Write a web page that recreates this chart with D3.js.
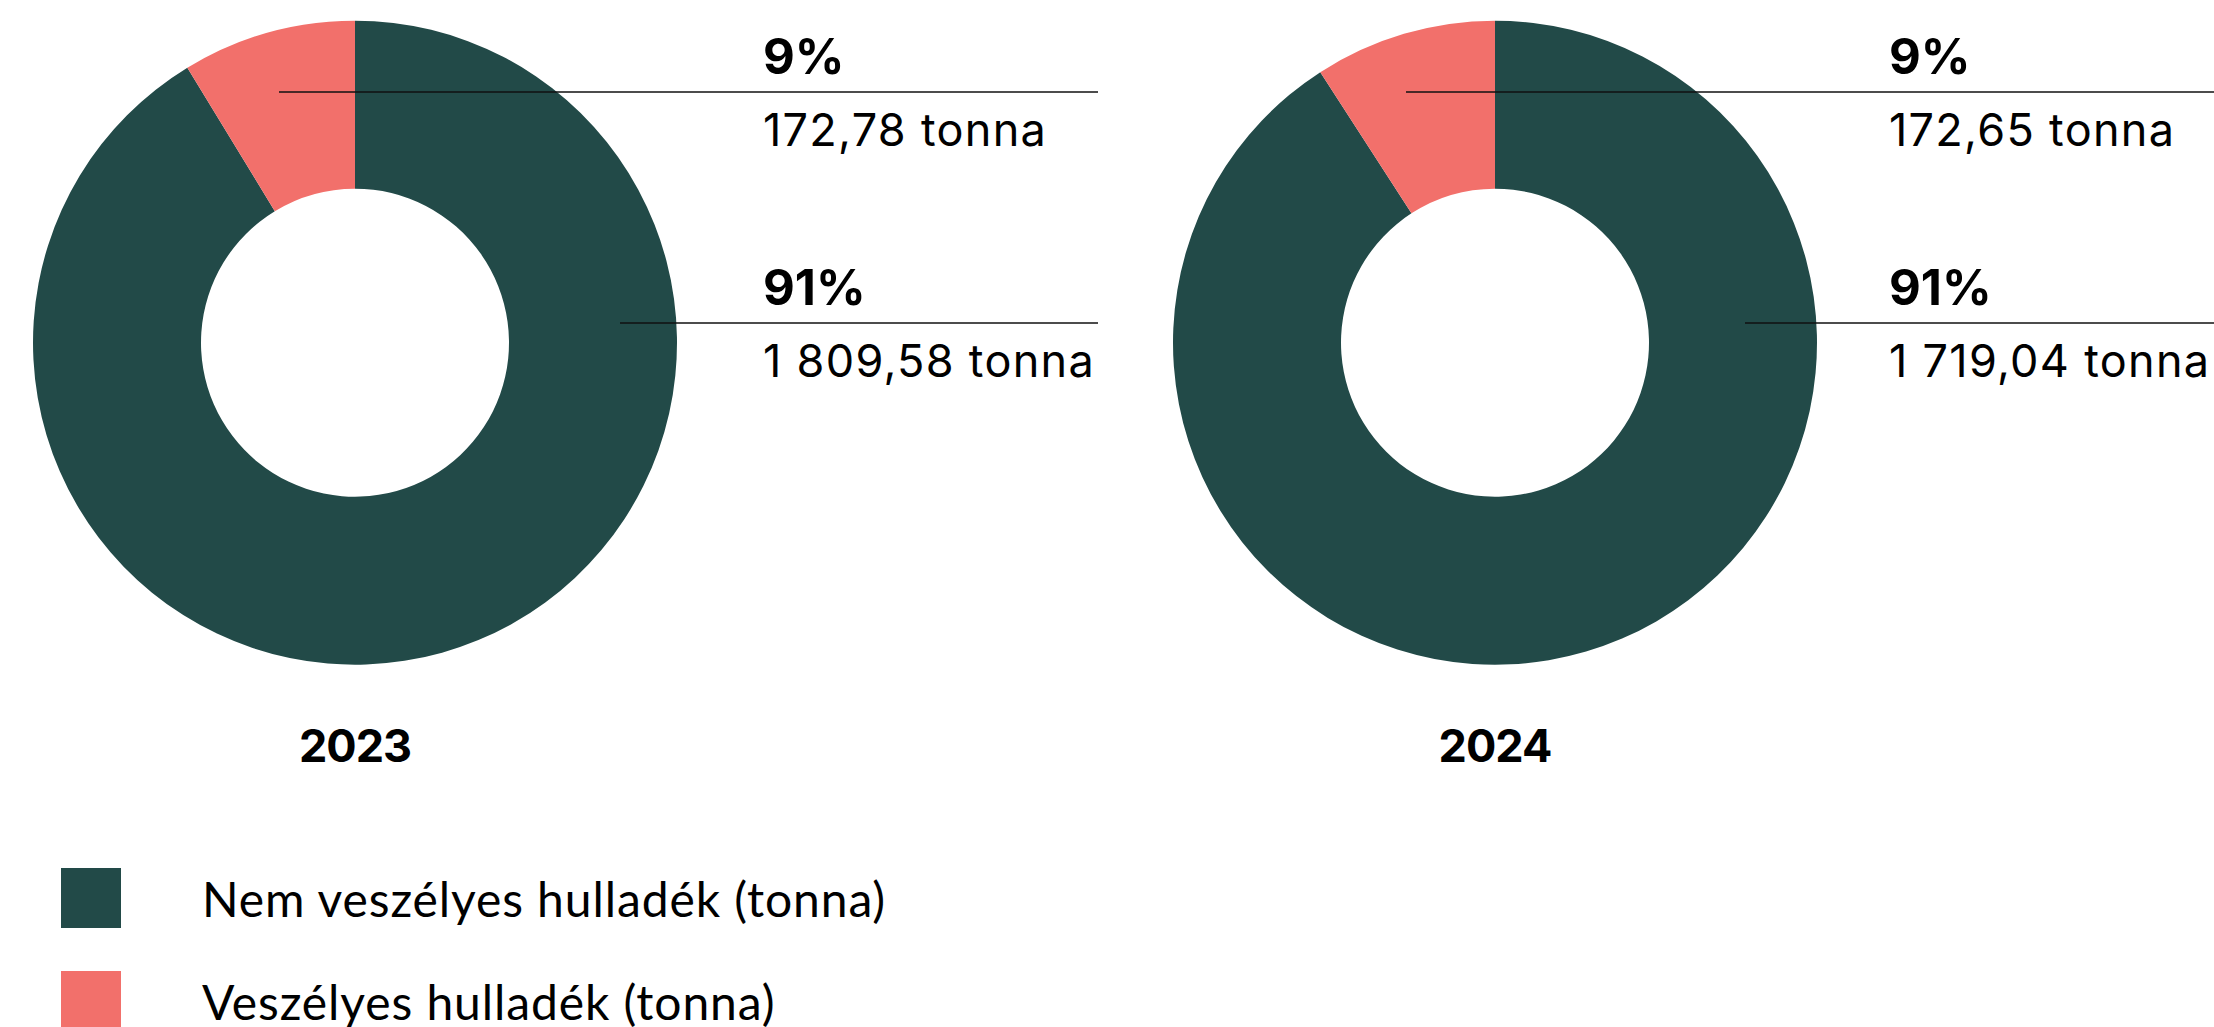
<!DOCTYPE html>
<html>
<head>
<meta charset="utf-8">
<script src="https://cdn.jsdelivr.net/npm/d3@7"></script>
<style>
  html, body { margin: 0; padding: 0; background: #fff; }
  svg { display: block; }
</style>
</head>
<body>
<svg id="chart" width="2214" height="1027"></svg>
<script>
// Waste generated per year, in tonnes
const years = ["2023", "2024"];
const categories = ["Nem veszélyes hulladék (tonna)", "Veszélyes hulladék (tonna)"];
const nonHazardous = [1809.58, 1719.04];
const hazardous = [172.78, 172.65];

const colors = ["#224a48", "#f2706b"];

// Per-donut placement
const layout = [
  { cx: 355,  hazLineX: 279,  nonLineX: 620,  lineEnd: 1098, textX: 763 },
  { cx: 1495, hazLineX: 1406, nonLineX: 1745, lineEnd: 2214, textX: 1889 }
];
const cy = 342.7, outerR = 322, innerR = 154;
const hazLineY = 92, nonLineY = 323;

const huLocale = d3.formatLocale({ decimal: ",", thousands: " ", grouping: [3], currency: ["", ""] });
const fmtTonnes = huLocale.format(",.2f");

const svg = d3.select("#chart");
const pie = d3.pie().sort(null).value(d => d.value);
const arc = d3.arc().innerRadius(innerR).outerRadius(outerR);
const colorScale = d3.scaleOrdinal().domain(categories).range(colors);

years.forEach((year, i) => {
  const L = layout[i];
  const data = [
    { key: categories[0], value: nonHazardous[i] },
    { key: categories[1], value: hazardous[i] }
  ];
  const total = d3.sum(data, d => d.value);
  const g = svg.append("g").attr("class", "donut");

  g.append("g")
    .attr("transform", `translate(${L.cx},${cy})`)
    .selectAll("path")
    .data(pie(data))
    .join("path")
    .attr("d", arc)
    .attr("fill", d => colorScale(d.data.key));

  const callouts = [
    { d: data[1], lineX: L.hazLineX, lineY: hazLineY },
    { d: data[0], lineX: L.nonLineX, lineY: nonLineY }
  ];

  callouts.forEach(c => {
    g.append("line")
      .attr("x1", c.lineX).attr("x2", L.lineEnd)
      .attr("y1", c.lineY).attr("y2", c.lineY)
      .attr("stroke", "#111").attr("stroke-width", 1.4);
    g.append("text")
      .attr("x", L.textX).attr("y", c.lineY - 18)
      .attr("font-family", "Inter, sans-serif")
      .attr("font-weight", 700)
      .attr("font-size", 49)
      .attr("fill", "#000")
      .text(Math.round(c.d.value / total * 100) + "%");
    g.append("text")
      .attr("x", L.textX).attr("y", c.lineY + 54)
      .attr("font-family", "Inter, sans-serif")
      .attr("font-weight", 400)
      .attr("font-size", 45)
      .attr("letter-spacing", 1.3)
      .attr("fill", "#000")
      .text(fmtTonnes(c.d.value) + " tonna");
  });

  g.append("text")
    .attr("x", L.cx).attr("y", 762)
    .attr("text-anchor", "middle")
    .attr("font-family", "Inter, sans-serif")
    .attr("font-weight", 700)
    .attr("font-size", 45)
    .attr("letter-spacing", -1)
    .attr("fill", "#000")
    .text(year);
});

// Legend
const legend = svg.append("g").attr("class", "legend");
const legendRows = legend.selectAll("g")
  .data(categories)
  .join("g")
  .attr("transform", (d, i) => `translate(61,${868 + i * 103})`);
legendRows.append("rect")
  .attr("width", 60).attr("height", 60)
  .attr("fill", d => colorScale(d));
legendRows.append("text")
  .attr("x", 141).attr("y", 49)
  .attr("font-family", "Lato, sans-serif")
  .attr("font-size", 48)
  .attr("letter-spacing", 0.9)
  .attr("fill", "#000")
  .text(d => d);
</script>
</body>
</html>
